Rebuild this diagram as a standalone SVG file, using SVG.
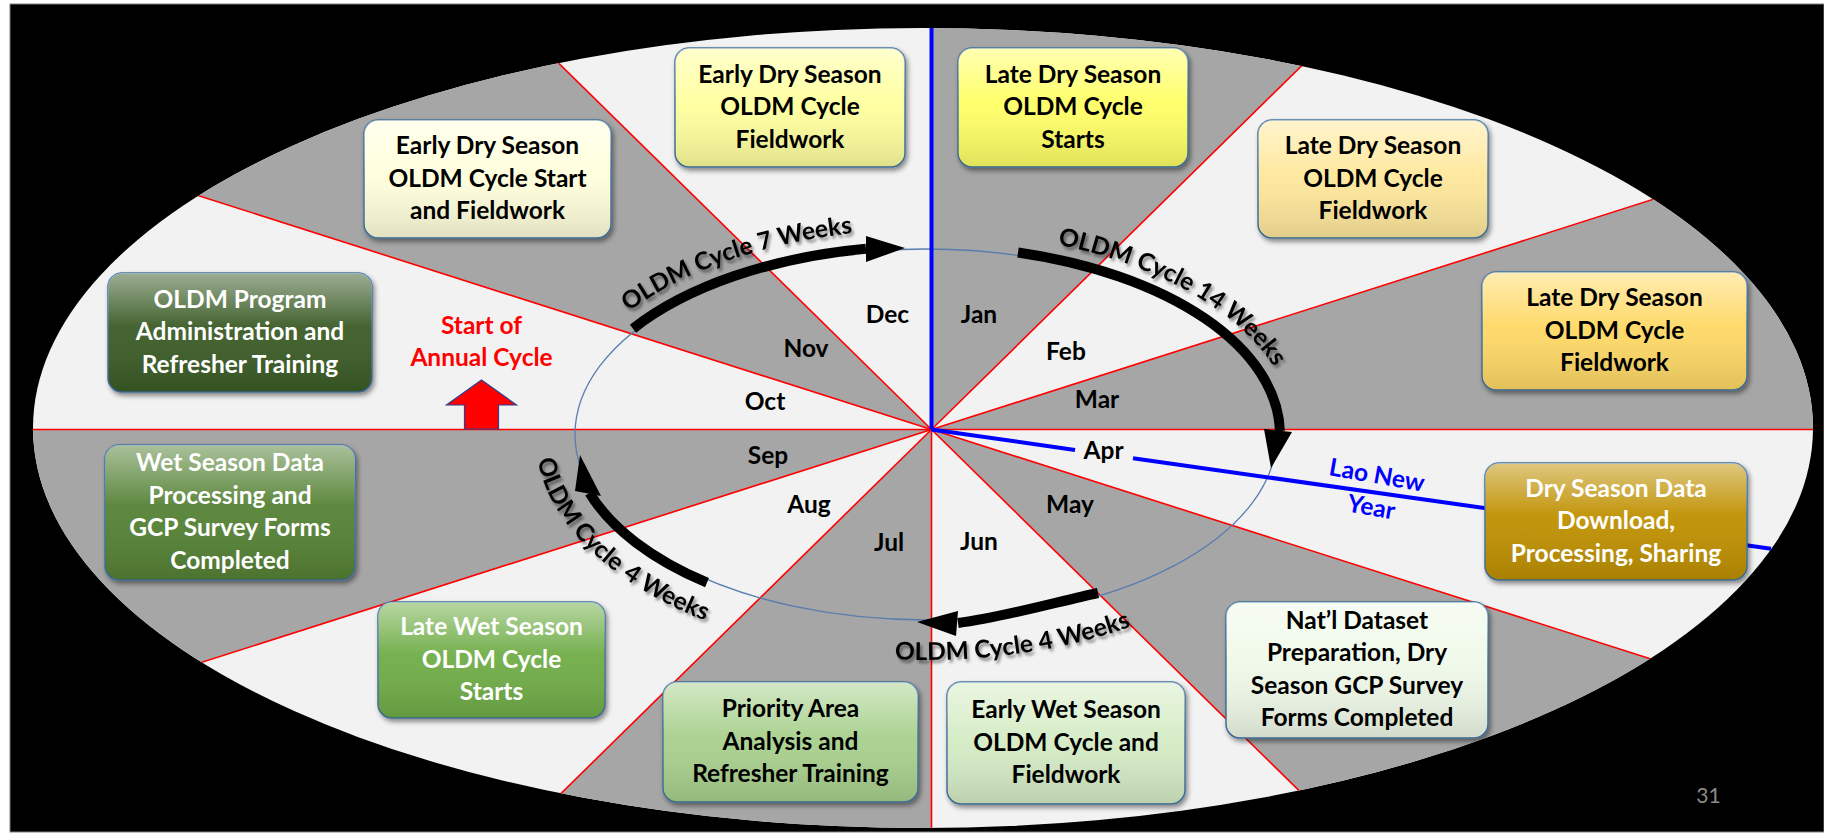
<svg xmlns="http://www.w3.org/2000/svg" width="1824" height="837" viewBox="0 0 1824 837">
<defs>
<style>
.bt{font-family:Lato,"Liberation Sans",sans-serif;font-weight:700;font-size:24.5px;text-anchor:middle}
.w{fill:#ffffff}
.k{fill:#000000}
.box{stroke:#41719c;stroke-width:1.5;filter:url(#shadow)}
.gloss{fill:url(#gloss);stroke:none}
.mon{font-family:Lato,"Liberation Sans",sans-serif;font-weight:700;font-size:24.5px;text-anchor:middle;fill:#000}
.redl{stroke:#ff0000;stroke-width:1.6;fill:none}
.bluel{stroke:#0000ff;stroke-width:4;fill:none}
.shaft{stroke:#000;stroke-width:10;fill:none}
.head{fill:#000;stroke:none}
.grey{fill:#a6a6a6}
.alab{font-family:Lato,"Liberation Sans",sans-serif;font-weight:700;font-size:24.5px;fill:#000;filter:url(#tshadow)}
.alab textPath{text-anchor:middle}
</style>
<clipPath id="ell"><ellipse cx="923" cy="428" rx="890" ry="400"/></clipPath>
<linearGradient id="gloss" x1="0" y1="0" x2="0" y2="1">
<stop offset="0" stop-color="#fff" stop-opacity="0.5"/>
<stop offset="0.45" stop-color="#fff" stop-opacity="0.05"/>
<stop offset="1" stop-color="#000" stop-opacity="0.12"/>
</linearGradient>
<filter id="shadow" x="-10%" y="-10%" width="125%" height="130%">
<feDropShadow dx="2" dy="3" stdDeviation="2.5" flood-color="#000" flood-opacity="0.45"/>
</filter>
<filter id="tshadow" x="-20%" y="-30%" width="150%" height="170%">
<feDropShadow dx="2" dy="3" stdDeviation="1.5" flood-color="#000" flood-opacity="0.45"/>
</filter>
<path id="p7" d="M 615 322.4 A 371 205.5 0 0 1 870 231.4"/>
<path id="p14" d="M 1050 242.8 A 369 203.5 0 0 1 1278 373.5"/>
<path id="pB" d="M 880 658.4 A 391 225.5 0 0 0 1145 621.3"/>
<path id="pL" d="M 535 434.5 A 391 225.5 0 0 0 730.5 629.8"/>
</defs>

<rect x="0" y="0" width="1824" height="837" fill="#ffffff"/>
<rect x="10" y="4" width="1814" height="828" fill="#000000" stroke="#7f7f7f" stroke-width="1"/>

<g id="sectors">
<ellipse cx="923" cy="428" rx="890" ry="400" fill="#f2f2f2"/>
<g clip-path="url(#ell)">
<polygon class="grey" points="931.5,429.5 1731.5,-356.5 931.5,-600"/>
<polygon class="grey" points="931.5,429.5 1931.5,429.5 1931.5,110.5"/>
<polygon class="grey" points="931.5,429.5 1931.5,748.5 1731.5,1215.5"/>
<polygon class="grey" points="931.5,429.5 931.5,1300 131.5,1215.5"/>
<polygon class="grey" points="931.5,429.5 -68.5,748.5 -68.5,429.5"/>
<polygon class="grey" points="931.5,429.5 -68.5,110.5 131.5,-356.5"/>
<g class="redl">
<line x1="-100" y1="429.5" x2="1950" y2="429.5"/>
<line x1="931.5" y1="429.5" x2="931.5" y2="1300"/>
<line x1="931.5" y1="429.5" x2="1731.5" y2="-356.5"/>
<line x1="931.5" y1="429.5" x2="1931.5" y2="110.5"/>
<line x1="931.5" y1="429.5" x2="1931.5" y2="748.5"/>
<line x1="931.5" y1="429.5" x2="1731.5" y2="1215.5"/>
<line x1="931.5" y1="429.5" x2="131.5" y2="1215.5"/>
<line x1="931.5" y1="429.5" x2="-68.5" y2="748.5"/>
<line x1="931.5" y1="429.5" x2="-68.5" y2="110.5"/>
<line x1="931.5" y1="429.5" x2="131.5" y2="-356.5"/>
</g>
</g>
<ellipse cx="926" cy="434.5" rx="351" ry="185.5" fill="none" stroke="#5a7db0" stroke-width="1.3"/>
<g class="bluel">
<line x1="931.5" y1="28" x2="931.5" y2="429.5"/>
<line x1="931.5" y1="429.5" x2="1075" y2="449.9"/>
<line x1="1133" y1="458.2" x2="1771" y2="548.7"/>
</g>
</g>

<g id="months">
<text class="mon" x="887.5" y="323">Dec</text>
<text class="mon" x="979" y="323">Jan</text>
<text class="mon" x="806" y="357">Nov</text>
<text class="mon" x="1066" y="360">Feb</text>
<text class="mon" x="765" y="410">Oct</text>
<text class="mon" x="1097" y="408">Mar</text>
<text class="mon" x="768" y="464">Sep</text>
<text class="mon" x="1103.5" y="459">Apr</text>
<text class="mon" x="809" y="513">Aug</text>
<text class="mon" x="1070" y="513">May</text>
<text class="mon" x="889" y="551">Jul</text>
<text class="mon" x="979" y="550">Jun</text>
</g>

<g id="connectors">
<path class="shaft" d="M 633 328.7 A 354 188.5 0 0 1 866 248.8"/>
<polygon class="head" points="866,236 866,262 905,248"/>
<path class="shaft" d="M 1018 252.5 A 354 188.5 0 0 1 1279.9 431"/>
<polygon class="head" points="1264,429 1292,432 1271,468"/>
<path class="shaft" d="M 1098 593 C 1060 601 1005 617 958 623"/>
<polygon class="head" points="958,611 956,636 917,622"/>
<path class="shaft" d="M 707 582.6 A 354 188.5 0 0 1 589.5 493"/>
<polygon class="head" points="575,491 601,496 580,455"/>
<g id="label-7-weeks">
<text class="alab"><textPath href="#p7" startOffset="50%">OLDM Cycle 7 Weeks</textPath></text>
</g>
<g id="label-14-weeks">
<text class="alab"><textPath href="#p14" startOffset="44.8">OLDM</textPath></text>
<text class="alab"><textPath href="#p14" startOffset="175.5">Cycle 14 Weeks</textPath></text>
</g>
<g id="label-4-weeks-bottom">
<text class="alab"><textPath href="#pB" startOffset="50%">OLDM Cycle 4 Weeks</textPath></text>
</g>
<g id="label-4-weeks-left">
<text class="alab"><textPath href="#pL" startOffset="95.4">OLDM Cycle</textPath></text>
<text class="alab"><textPath href="#pL" startOffset="220.3">4 Weeks</textPath></text>
</g>
</g>

<g id="n1">
<rect class="box" x="675" y="48" width="230" height="119" rx="14" fill="#ffff9e"/>
<rect class="gloss" x="675" y="48" width="230" height="119" rx="14"/>
<text class="bt k"><tspan x="790" y="82.5">Early Dry Season</tspan><tspan x="790" y="115">OLDM Cycle</tspan><tspan x="790" y="147.5">Fieldwork</tspan></text>
</g>
<g id="n2">
<rect class="box" x="958" y="48" width="230" height="119" rx="14" fill="#ffff66"/>
<rect class="gloss" x="958" y="48" width="230" height="119" rx="14"/>
<text class="bt k"><tspan x="1073" y="82.5">Late Dry Season</tspan><tspan x="1073" y="115">OLDM Cycle</tspan><tspan x="1073" y="147.5">Starts</tspan></text>
</g>
<g id="n3">
<rect class="box" x="364" y="120" width="247" height="118" rx="14" fill="#ffffdc"/>
<rect class="gloss" x="364" y="120" width="247" height="118" rx="14"/>
<text class="bt k"><tspan x="487.5" y="154">Early Dry Season</tspan><tspan x="487.5" y="186.5">OLDM Cycle Start</tspan><tspan x="487.5" y="219">and Fieldwork</tspan></text>
</g>
<g id="n4">
<rect class="box" x="1258" y="120" width="230" height="118" rx="14" fill="#ffe89c"/>
<rect class="gloss" x="1258" y="120" width="230" height="118" rx="14"/>
<text class="bt k"><tspan x="1373" y="154">Late Dry Season</tspan><tspan x="1373" y="186.5">OLDM Cycle</tspan><tspan x="1373" y="219">Fieldwork</tspan></text>
</g>
<g id="n5">
<rect class="box" x="108" y="273" width="264" height="119" rx="14" fill="#3b5c27"/>
<rect class="gloss" x="108" y="273" width="264" height="119" rx="14"/>
<text class="bt w"><tspan x="240" y="307.5">OLDM Program</tspan><tspan x="240" y="340">Administration and</tspan><tspan x="240" y="372.5">Refresher Training</tspan></text>
</g>
<g id="n6">
<rect class="box" x="1482" y="272" width="265" height="118" rx="14" fill="#ffd966"/>
<rect class="gloss" x="1482" y="272" width="265" height="118" rx="14"/>
<text class="bt k"><tspan x="1614.5" y="306">Late Dry Season</tspan><tspan x="1614.5" y="338.5">OLDM Cycle</tspan><tspan x="1614.5" y="371">Fieldwork</tspan></text>
</g>
<g id="n7">
<rect class="box" x="105" y="445" width="250" height="135" rx="14" fill="#548235"/>
<rect class="gloss" x="105" y="445" width="250" height="135" rx="14"/>
<text class="bt w"><tspan x="230" y="471.25">Wet Season Data</tspan><tspan x="230" y="503.75">Processing and</tspan><tspan x="230" y="536.25">GCP Survey Forms</tspan><tspan x="230" y="568.75">Completed</tspan></text>
</g>
<g id="n8">
<rect class="box" x="1485" y="463" width="262" height="117" rx="14" fill="#bf9000"/>
<rect class="gloss" x="1485" y="463" width="262" height="117" rx="14"/>
<text class="bt w"><tspan x="1616" y="496.5">Dry Season Data</tspan><tspan x="1616" y="529">Download,</tspan><tspan x="1616" y="561.5">Processing, Sharing</tspan></text>
</g>
<g id="n9">
<rect class="box" x="378" y="602" width="227" height="116" rx="14" fill="#70ad47"/>
<rect class="gloss" x="378" y="602" width="227" height="116" rx="14"/>
<text class="bt w"><tspan x="491.5" y="635">Late Wet Season</tspan><tspan x="491.5" y="667.5">OLDM Cycle</tspan><tspan x="491.5" y="700">Starts</tspan></text>
</g>
<g id="n10">
<rect class="box" x="1226" y="602" width="262" height="136" rx="14" fill="#eff9e8"/>
<rect class="gloss" x="1226" y="602" width="262" height="136" rx="14"/>
<text class="bt k"><tspan x="1357" y="628.75">Nat’l Dataset</tspan><tspan x="1357" y="661.25">Preparation, Dry</tspan><tspan x="1357" y="693.75">Season GCP Survey</tspan><tspan x="1357" y="726.25">Forms Completed</tspan></text>
</g>
<g id="n11">
<rect class="box" x="663" y="682" width="255" height="120" rx="14" fill="#a9d18e"/>
<rect class="gloss" x="663" y="682" width="255" height="120" rx="14"/>
<text class="bt k"><tspan x="790.5" y="717">Priority Area</tspan><tspan x="790.5" y="749.5">Analysis and</tspan><tspan x="790.5" y="782">Refresher Training</tspan></text>
</g>
<g id="n12">
<rect class="box" x="947" y="682" width="238" height="122" rx="14" fill="#d5ecc5"/>
<rect class="gloss" x="947" y="682" width="238" height="122" rx="14"/>
<text class="bt k"><tspan x="1066" y="718">Early Wet Season</tspan><tspan x="1066" y="750.5">OLDM Cycle and</tspan><tspan x="1066" y="783">Fieldwork</tspan></text>
</g>

<g id="start-annual">
<text class="bt" fill="#ff0000"><tspan x="481.5" y="334">Start of</tspan><tspan x="481.5" y="365.5">Annual Cycle</tspan></text>
<polygon points="481.5,380 516.5,405 498.5,405 498.5,429 464.5,429 464.5,405 446.5,405" fill="#ff0000" stroke="#2f3f8f" stroke-width="1.2"/>
</g>

<g id="lao-new-year">
<text class="bt" fill="#0000ff" transform="rotate(10 1374 492)"><tspan x="1374" y="483.25">Lao New</tspan><tspan x="1374" y="515.75">Year</tspan></text>
</g>

<text x="1708.5" y="803" font-family="Lato,'Liberation Sans',sans-serif" font-size="21" fill="#8c8c8c" text-anchor="middle">31</text>
</svg>
